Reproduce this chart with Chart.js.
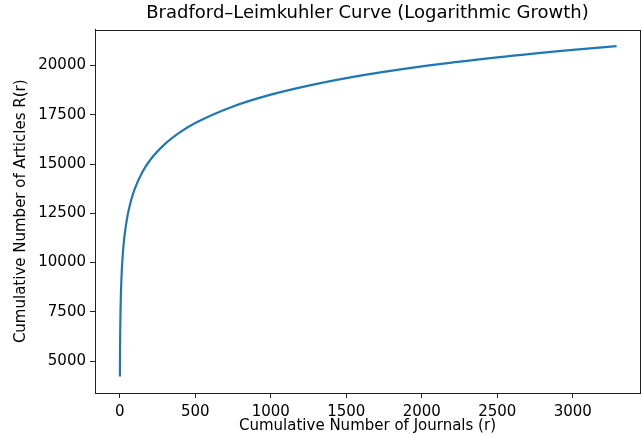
<!DOCTYPE html>
<html>
<head>
<meta charset="utf-8">
<script src="https://cdn.jsdelivr.net/npm/chart.js@4"></script>
<style>
  html, body { margin: 0; padding: 0; background: #fff; }
  #wrap { width: 642px; height: 435px; }
</style>
</head>
<body>
<div id="wrap"><canvas id="chart" width="642" height="435"></canvas></div>
<script>
// values
const journals = [1, 2, 3, 5, 10, 20, 30, 50, 75, 100, 150, 200, 300, 400, 500, 750, 1000, 1250, 1500, 2000, 2500, 3000, 3290];
const articles = [4220, 5650, 6490, 7550, 8990, 10420, 11260, 12320, 13160, 13750, 14590, 15190, 16020, 16620, 17080, 17920, 18520, 18980, 19360, 19950, 20410, 20790, 20980];

const xTicks = [0, 500, 1000, 1500, 2000, 2500, 3000];
const yTicks = [5000, 7500, 10000, 12500, 15000, 17500, 20000];

const tickFont = { family: 'DejaVu Sans', size: 15 };
const labelFont = { family: 'DejaVu Sans', size: 15 };
const ink = '#000';
const edge = '#222';

// box round the plot area
const frame = {
    id: 'frame',
    afterDraw(chart) {
        const { ctx, chartArea: a } = chart;
        const l = Math.round(a.left), t = Math.round(a.top);
        const r = Math.round(a.right), b = Math.round(a.bottom);
        ctx.save();
        ctx.strokeStyle = edge;
        ctx.lineWidth = 1;
        ctx.strokeRect(l + 0.5, t + 0.5, r - l, b - t);
        ctx.restore();
    }
};
Chart.register(frame);

new Chart(document.getElementById('chart'), {
    type: 'scatter',
    data: {
        datasets: [{
            data: journals.map((r, i) => ({ x: r, y: articles[i] })),
            showLine: true,
            borderColor: '#1f77b4',
            borderWidth: 2.2,
            pointRadius: 0,
            cubicInterpolationMode: 'monotone'
        }]
    },
    options: {
        responsive: false,
        animation: false,
        layout: { padding: { left: 0, right: 2, top: 0, bottom: 0 } },
        plugins: {
            legend: { display: false },
            tooltip: { enabled: false },
            title: {
                display: true,
                fullSize: false,
                text: 'Bradford–Leimkuhler Curve (Logarithmic Growth)',
                color: ink,
                font: { family: 'DejaVu Sans', size: 18, weight: 'normal' },
                padding: { top: 3, bottom: 5 }
            }
        },
        scales: {
            x: {
                type: 'linear',
                min: -164,
                max: 3445,
                afterBuildTicks: s => { s.ticks = xTicks.map(v => ({ value: v })); },
                afterFit: s => { s.height = 42; },
                ticks: { color: ink, font: tickFont, padding: 5, maxRotation: 0, callback: v => String(v) },
                grid: { drawOnChartArea: false, color: edge, tickLength: 5 },
                border: { color: edge },
                title: { display: true, text: 'Cumulative Number of Journals (r)', color: ink, font: labelFont, padding: { top: 0, bottom: 0 } }
            },
            y: {
                min: 3380,
                max: 21820,
                afterBuildTicks: s => { s.ticks = yTicks.map(v => ({ value: v })); },
                afterFit: s => { s.width = 95; },
                ticks: { color: ink, font: tickFont, padding: 4, callback: v => String(v) },
                grid: { drawOnChartArea: false, color: edge, tickLength: 5 },
                border: { color: edge },
                title: { display: true, text: 'Cumulative Number of Articles R(r)', color: ink, font: labelFont, padding: { top: 12, bottom: 0 } }
            }
        }
    }
});
</script>
</body>
</html>
